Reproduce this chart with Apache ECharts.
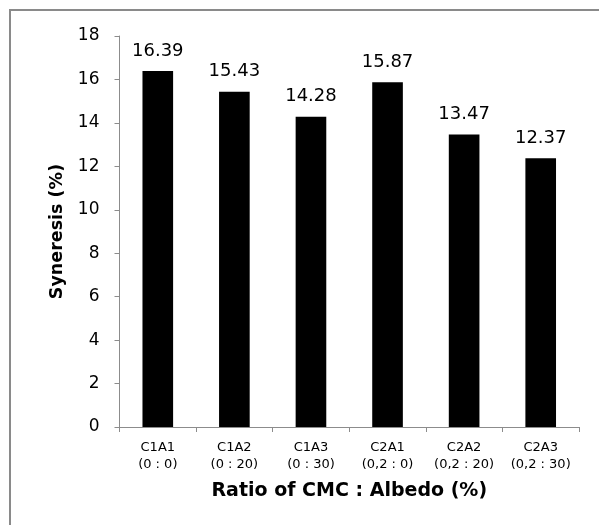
<!DOCTYPE html>
<html>
<head>
<meta charset="utf-8">
<script src="https://cdn.jsdelivr.net/npm/echarts@6/dist/echarts.min.js"></script>
<style>
  html, body { margin: 0; padding: 0; background: #fff; }
  #chart { width: 599px; height: 525px; }
</style>
</head>
<body>
<div id="chart"></div>
<script>
// Sample codes with their CMC : Albedo ratios
const categories = ['C1A1\n(0 : 0)', 'C1A2\n(0 : 20)', 'C1A3\n(0 : 30)', 'C2A1\n(0,2 : 0)', 'C2A2\n(0,2 : 20)', 'C2A3\n(0,2 : 30)'];
// Syneresis (%) per sample
const syneresis = [16.39, 15.43, 14.28, 15.87, 13.47, 12.37];
// Value axis range
const yMin = 0, yMax = 18, yStep = 2;

const chart = echarts.init(document.getElementById('chart'), null, { renderer: 'canvas' });
const font = 'DejaVu Sans, Verdana, sans-serif';

chart.setOption({
  animation: false,
  backgroundColor: '#fff',
  graphic: [{
    type: 'rect',
    shape: { x: 10, y: 10, width: 620, height: 540 },
    style: { fill: 'none', stroke: '#8a8a8a', lineWidth: 2 },
    silent: true
  }],
  grid: { left: 119.5, right: 20, top: 36, bottom: 98 },
  xAxis: {
    type: 'category',
    data: categories,
    name: 'Ratio of CMC : Albedo (%)',
    nameLocation: 'middle',
    nameGap: 55,
    nameTextStyle: { fontFamily: font, fontWeight: 'bold', fontSize: 19, color: '#000' },
    axisLine: { lineStyle: { color: '#8c8c8c', width: 1 } },
    axisTick: { show: true, length: 5, lineStyle: { color: '#8c8c8c' } },
    axisLabel: { fontFamily: font, fontSize: 13, color: '#000', lineHeight: 17, margin: 12, interval: 0 }
  },
  yAxis: {
    type: 'value',
    min: yMin, max: yMax, interval: yStep,
    name: 'Syneresis (%)',
    nameLocation: 'middle',
    nameGap: 53,
    nameTextStyle: { fontFamily: font, fontWeight: 'bold', fontSize: 17.5, color: '#000' },
    splitLine: { show: false },
    axisLine: { show: true, lineStyle: { color: '#8c8c8c', width: 1 } },
    axisTick: { show: true, length: 5, lineStyle: { color: '#8c8c8c' } },
    axisLabel: { fontFamily: font, fontSize: 17, color: '#000', margin: 20 }
  },
  series: [{
    type: 'bar',
    data: syneresis,
    barWidth: '40%',
    itemStyle: { color: '#000' },
    label: {
      show: true,
      position: 'top',
      distance: 11,
      fontFamily: font,
      fontSize: 18,
      color: '#000',
      formatter: p => p.value.toFixed(2)
    }
  }]
});
</script>
</body>
</html>
